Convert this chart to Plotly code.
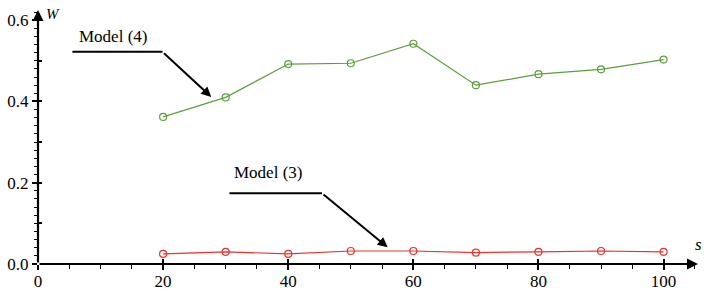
import plotly.graph_objects as go

s_vals = [20, 30, 40, 50, 60, 70, 80, 90, 100]
model4 = [0.362, 0.410, 0.492, 0.494, 0.542, 0.440, 0.467, 0.479, 0.503]
model3 = [0.025, 0.030, 0.025, 0.032, 0.032, 0.028, 0.030, 0.032, 0.030]
x_ticks = [0, 20, 40, 60, 80, 100]
y_ticks = [0.0, 0.2, 0.4, 0.6]
y_labels = ["0.0", "0.2", "0.4", "0.6"]

XMAX = 105.5
YMAX = 0.625
FONT = "Times New Roman, Liberation Serif, serif"

fig = go.Figure()
fig.add_trace(go.Scatter(x=s_vals, y=model4, mode="lines+markers",
                         line=dict(color="#5c9e3c", width=1.2),
                         marker=dict(symbol="circle-open", size=7, color="#5c9e3c", line=dict(width=1.2)),
                         showlegend=False))
fig.add_trace(go.Scatter(x=s_vals, y=model3, mode="lines+markers",
                         line=dict(color="#e8322c", width=1.2),
                         marker=dict(symbol="circle-open", size=7, color="#e8322c", line=dict(width=1.2)),
                         showlegend=False))
fig.add_trace(go.Scatter(x=[0], y=[0], xaxis="x2", yaxis="y2", mode="markers",
                         marker=dict(opacity=0), showlegend=False, hoverinfo="skip"))

axis_common = dict(showgrid=False, zeroline=False, showline=False, automargin=False)
fig.update_layout(
    width=708, height=291,
    margin=dict(l=38, r=10, t=10, b=27),
    plot_bgcolor="white", paper_bgcolor="white",
    font=dict(family=FONT, size=17, color="black"),
    xaxis=dict(range=[0, XMAX], tickvals=x_ticks, ticks="outside", ticklen=5, tickwidth=1.5,
               tickcolor="black", ticklabelstandoff=-3,
               minor=dict(dtick=5, tick0=0, ticks="outside", ticklen=4, tickcolor="black", tickwidth=1),
               tickfont=dict(family=FONT, size=17), **axis_common),
    yaxis=dict(range=[0, YMAX], tickvals=y_ticks, ticktext=y_labels, ticks="outside", ticklen=5,
               tickwidth=1.5, tickcolor="black", ticklabelstandoff=0,
               minor=dict(dtick=0.02, tick0=0, ticks="outside", ticklen=3, tickcolor="black", tickwidth=1),
               tickfont=dict(family=FONT, size=17), **axis_common),
    xaxis2=dict(range=[0, XMAX], overlaying="x", anchor="y2", tickvals=x_ticks, ticks="inside",
                ticklen=5, tickwidth=1.5, tickcolor="black", showticklabels=False, **axis_common),
    yaxis2=dict(range=[0, YMAX], overlaying="y", anchor="x2", tickvals=[0.1, 0.2, 0.3, 0.4, 0.5, 0.6],
                ticks="inside", ticklen=4, tickwidth=1.5, tickcolor="black", showticklabels=False, **axis_common),
)

# axis lines with arrowheads
fig.add_annotation(x=XMAX, y=0, ax=0, ay=0, xref="x", yref="y", axref="x", ayref="y",
                   showarrow=True, arrowhead=2, arrowsize=1, arrowwidth=2.2, arrowcolor="black", text="")
fig.add_annotation(x=0, y=YMAX, ax=0, ay=0, xref="x", yref="y", axref="x", ayref="y",
                   showarrow=True, arrowhead=2, arrowsize=1, arrowwidth=2.2, arrowcolor="black", text="")
fig.add_annotation(x=0, y=YMAX, xref="x", yref="y", text="<i>W</i>", showarrow=False,
                   xanchor="left", yanchor="top", xshift=6, yshift=6, font=dict(family=FONT, size=15))
fig.add_annotation(x=XMAX, y=0, xref="x", yref="y", text="<i>s</i>", showarrow=False,
                   xanchor="center", yanchor="bottom", xshift=0, yshift=8, font=dict(family=FONT, size=17))

# Model labels with leader lines
fig.add_annotation(x=12.0, y=0.559, xref="x", yref="y", text="Model (4)", showarrow=False,
                   font=dict(family=FONT, size=17))
fig.add_shape(type="line", x0=5.5, x1=19.9, y0=0.522, y1=0.522, xref="x", yref="y",
              line=dict(color="black", width=2))
fig.add_annotation(x=27.7, y=0.411, ax=19.9, ay=0.522, xref="x", yref="y", axref="x", ayref="y",
                   text="", showarrow=True, arrowhead=2, arrowsize=1, arrowwidth=2, arrowcolor="black")

fig.add_annotation(x=36.7, y=0.224, xref="x", yref="y", text="Model (3)", showarrow=False,
                   font=dict(family=FONT, size=17))
fig.add_shape(type="line", x0=30.6, x1=45.4, y0=0.174, y1=0.174, xref="x", yref="y",
              line=dict(color="black", width=2))
fig.add_annotation(x=55.9, y=0.041, ax=45.4, ay=0.174, xref="x", yref="y", axref="x", ayref="y",
                   text="", showarrow=True, arrowhead=2, arrowsize=1, arrowwidth=2, arrowcolor="black")

fig.write_html("out.html", config={"displayModeBar": False},
               post_script="document.body.style.margin='0';document.body.style.overflow='hidden';")
